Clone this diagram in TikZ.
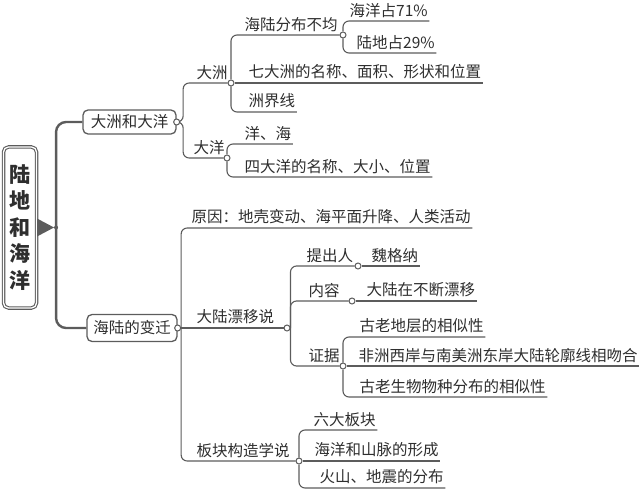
\documentclass[tikz,border=0pt]{standalone}
\usepackage{fontspec}
\setmainfont{Noto Sans CJK SC}
\usetikzlibrary{backgrounds}
\definecolor{lncol}{gray}{0.36}
\definecolor{txtcol}{gray}{0.18}
\begin{document}
\begin{tikzpicture}[x=1pt,y=-1pt,
  conn/.style={draw=lncol, line width=1.1pt, rounded corners=6pt},
  trunk/.style={draw=lncol, line width=2.4pt, rounded corners=10pt},
  dot/.style={circle, draw=lncol, fill=white, line width=1pt, inner sep=0pt, minimum size=6pt},
  lbl/.style={anchor=south west, inner xsep=1.5pt, inner ysep=3.5pt, font=\fontsize{15.5}{16}\selectfont, text=txtcol},
  box/.style={draw=lncol, rounded corners=5pt, line width=1.3pt, font=\fontsize{15.5}{16}\selectfont, text=txtcol, fill=white}]
\useasboundingbox (0,0) rectangle (640,492);

% root
\node[draw=lncol, line width=1.1pt, double=white, double distance=1.3pt, rounded corners=5pt,
      minimum width=33pt, minimum height=161pt, align=center, text=txtcol,
      font=\bfseries\fontsize{21}{26.5}\selectfont] (root) at (20,227.5) {陆\\地\\和\\海\\洋};
\fill[lncol] ([yshift=-9pt]root.east) -- ([xshift=17pt]root.east) -- ([yshift=9pt]root.east) -- cycle;
\node[circle, fill=lncol, inner sep=0pt, minimum size=4pt] (tip) at ([xshift=19pt]root.east) {};

% level 1 boxes
\node[box, minimum width=93pt, minimum height=24pt] (b1) at (129.5,122) {大洲和大洋};
\node[box, minimum width=90pt, minimum height=27pt] (b2) at (132,328) {海陆的变迁};
\node[dot] (d1) at (b1.east) {};
\node[dot] (d2) at (b2.east) {};

% 大洲和大洋 branch
\node[lbl] (l_dz) at (195,83) {大洲};
\node[dot] (d3) at (231,83) {};
\node[lbl] (l_dy) at (192,158) {大洋};
\node[dot] (d4) at (227,158) {};

\node[lbl] (t_hl) at (243,35) {海陆分布不均};
\node[dot] (d5) at (343,35) {};
\node[lbl] (t_7) at (247,83) {七大洲的名称、面积、形状和位置};
\node[lbl] (t_jx) at (247,112) {洲界线};
\node[lbl] (t_71) at (348,21) {海洋占71\%};
\node[lbl] (t_29) at (355,53) {陆地占29\%};
\node[lbl] (t_yh) at (243,144) {洋、海};
\node[lbl] (t_4) at (243,177) {四大洋的名称、大小、位置};

% 海陆的变迁 branch
\node[lbl] (t_yy) at (190,228) {原因：地壳变动、海平面升降、人类活动};
\node[lbl] (l_dl) at (195,328) {大陆漂移说};
\node[dot] (d6) at (287,328) {};
\node[lbl] (l_bk) at (195,461) {板块构造学说};
\node[dot] (d7) at (299,461) {};

\node[lbl] (l_tc) at (305,266) {提出人};
\node[dot] (d8) at (358,266) {};
\node[lbl] (t_wg) at (370,266) {魏格纳};
\node[lbl] (l_nr) at (307,301) {内容};
\node[dot] (d9) at (352,301) {};
\node[lbl] (t_nr) at (365,301) {大陆在不断漂移};
\node[lbl] (l_zj) at (307,366) {证据};
\node[dot] (d10) at (343,366) {};
\node[lbl] (t_g1) at (358,337) {古老地层的相似性};
\node[lbl] (t_fz) at (357,366) {非洲西岸与南美洲东岸大陆轮廓线相吻合};
\node[lbl] (t_g2) at (358,397) {古老生物物种分布的相似性};

\node[lbl] (t_6) at (312,430) {六大板块};
\node[lbl] (t_hy) at (313,461) {海洋和山脉的形成};
\node[lbl] (t_hs) at (318,488) {火山、地震的分布};

\begin{scope}[on background layer]
\draw[trunk] (tip.center) |- (b1.west);
\draw[trunk] (tip.center) |- (b2.west);

\draw[conn] (d1.east) -- ++(3,0) |- (d3.west);
\draw[conn] (d1.east) -- ++(3,0) |- (d4.west);

\draw[conn] (d3.north) |- (d5.west);
\draw[conn] (d3.east) -- (t_7.south east);
\draw[conn] (d3.south) |- (t_jx.south east);
\draw[conn] (d5.north) |- (t_71.south east);
\draw[conn] (d5.south) |- (t_29.south east);
\draw[conn] (d4.north) |- (t_yh.south east);
\draw[conn] (d4.south) |- (t_4.south east);

\draw[conn] (d2.east) |- (t_yy.south east);
\draw[conn] (d2.east) -- (d6.west);
\draw[conn] (d2.east) |- (d7.west);

\draw[conn] (d6.east) |- (d8.west);
\draw[conn] (d8.east) -- (t_wg.south east);
\draw[conn] (d6.east) |- (d9.west);
\draw[conn] (d9.east) -- (t_nr.south east);
\draw[conn] (d6.east) |- (d10.west);
\draw[conn] (d10.north) |- (t_g1.south east);
\draw[conn] (d10.east) -- (t_fz.south east);
\draw[conn] (d10.south) |- (t_g2.south east);

\draw[conn] (d7.north) |- (t_6.south east);
\draw[conn] (d7.east) -- (t_hy.south east);
\draw[conn] (d7.south) |- (t_hs.south east);
\end{scope}
\end{tikzpicture}
\end{document}
